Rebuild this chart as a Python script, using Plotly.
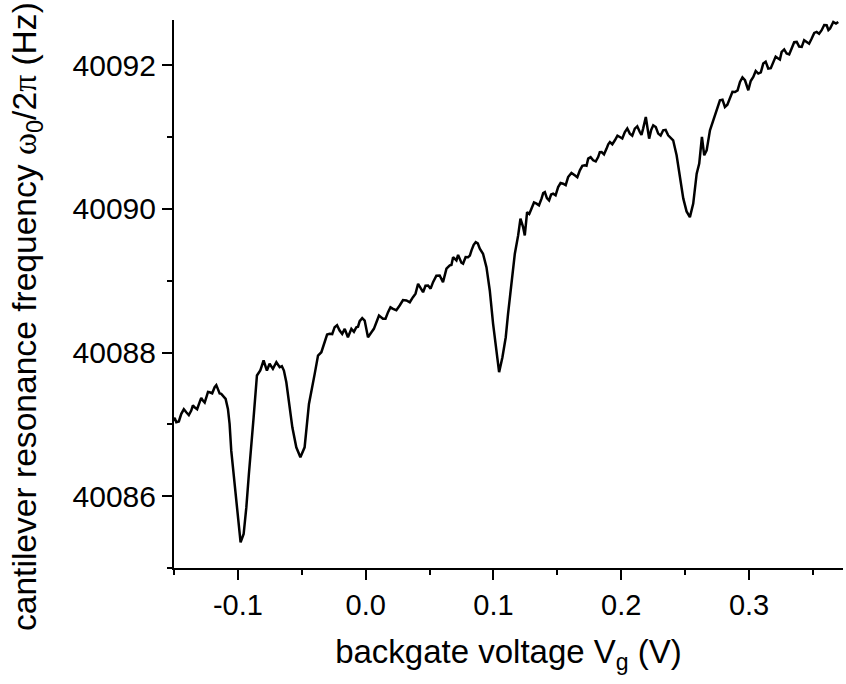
import plotly.graph_objects as go

# Backgate sweep: gate voltage (V) and cantilever resonance frequency (Hz)
voltage = [
    -0.1509, -0.1495, -0.1482, -0.1462, -0.1443, -0.1423, -0.1404, -0.1384, -0.1365, -0.1352,
    -0.1339, -0.1319, -0.1300, -0.1287, -0.1274, -0.1260, -0.1247, -0.1234, -0.1221, -0.1201,
    -0.1182, -0.1169, -0.1157, -0.1143, -0.1130, -0.1096, -0.1078, -0.1065, -0.1052, -0.1031,
    -0.1012, -0.0994, -0.0979, -0.0955, -0.0934, -0.0914, -0.0895, -0.0877, -0.0851, -0.0825,
    -0.0799, -0.0786, -0.0773, -0.0752, -0.0726, -0.0699, -0.0673, -0.0656, -0.0640, -0.0621,
    -0.0601, -0.0574, -0.0543, -0.0511, -0.0478, -0.0444, -0.0399, -0.0373, -0.0347, -0.0321,
    -0.0302, -0.0282, -0.0262, -0.0243, -0.0224, -0.0204, -0.0184, -0.0164, -0.0139, -0.0112,
    -0.0092, -0.0073, -0.0060, -0.0047, -0.0027, -0.0008, 0.0018, 0.0045, 0.0064, 0.0084,
    0.0104, 0.0135, 0.0155, 0.0175, 0.0194, 0.0214, 0.0240, 0.0266, 0.0292, 0.0319,
    0.0345, 0.0370, 0.0390, 0.0410, 0.0449, 0.0468, 0.0488, 0.0508, 0.0527, 0.0553,
    0.0579, 0.0605, 0.0632, 0.0658, 0.0671, 0.0684, 0.0710, 0.0723, 0.0736, 0.0749,
    0.0762, 0.0782, 0.0801, 0.0815, 0.0828, 0.0845, 0.0861, 0.0877, 0.0893, 0.0918,
    0.0945, 0.0971, 0.0997, 0.1023, 0.1044, 0.1070, 0.1096, 0.1114, 0.1141, 0.1167,
    0.1193, 0.1211, 0.1232, 0.1245, 0.1263, 0.1280, 0.1297, 0.1317, 0.1337, 0.1356,
    0.1376, 0.1389, 0.1402, 0.1418, 0.1435, 0.1451, 0.1467, 0.1486, 0.1506, 0.1525,
    0.1545, 0.1565, 0.1584, 0.1610, 0.1636, 0.1656, 0.1676, 0.1695, 0.1715, 0.1728,
    0.1741, 0.1760, 0.1780, 0.1800, 0.1819, 0.1832, 0.1846, 0.1865, 0.1885, 0.1898,
    0.1911, 0.1930, 0.1950, 0.1970, 0.1989, 0.2008, 0.2028, 0.2047, 0.2067, 0.2086,
    0.2106, 0.2125, 0.2145, 0.2158, 0.2171, 0.2192, 0.2218, 0.2234, 0.2250, 0.2270,
    0.2289, 0.2308, 0.2328, 0.2347, 0.2367, 0.2386, 0.2406, 0.2433, 0.2459, 0.2485,
    0.2511, 0.2537, 0.2563, 0.2590, 0.2610, 0.2631, 0.2649, 0.2668, 0.2694, 0.2720,
    0.2746, 0.2772, 0.2792, 0.2811, 0.2830, 0.2850, 0.2870, 0.2890, 0.2910, 0.2929,
    0.2948, 0.2968, 0.2994, 0.3013, 0.3033, 0.3052, 0.3072, 0.3092, 0.3111, 0.3130,
    0.3150, 0.3170, 0.3189, 0.3208, 0.3228, 0.3241, 0.3255, 0.3275, 0.3294, 0.3314,
    0.3333, 0.3353, 0.3373, 0.3392, 0.3412, 0.3431, 0.3451, 0.3470, 0.3490, 0.3510,
    0.3529, 0.3548, 0.3568, 0.3588, 0.3607, 0.3621, 0.3634, 0.3659, 0.3680, 0.3698,
]
frequency = [
    40087.052, 40087.090, 40087.029, 40087.040, 40087.146, 40087.210, 40087.168, 40087.130, 40087.192, 40087.265,
    40087.238, 40087.212, 40087.307, 40087.369, 40087.331, 40087.304, 40087.377, 40087.452, 40087.447, 40087.432,
    40087.517, 40087.545, 40087.494, 40087.430, 40087.425, 40087.355, 40087.215, 40087.006, 40086.634, 40086.262,
    40085.844, 40085.519, 40085.356, 40085.473, 40085.844, 40086.309, 40086.680, 40087.098, 40087.680, 40087.749,
    40087.889, 40087.800, 40087.749, 40087.843, 40087.773, 40087.865, 40087.795, 40087.810, 40087.749, 40087.586,
    40087.331, 40086.959, 40086.680, 40086.541, 40086.680, 40087.285, 40087.703, 40087.958, 40088.004, 40088.144,
    40088.250, 40088.261, 40088.257, 40088.353, 40088.380, 40088.307, 40088.260, 40088.330, 40088.213, 40088.330,
    40088.290, 40088.353, 40088.360, 40088.436, 40088.480, 40088.446, 40088.213, 40088.283, 40088.330, 40088.422,
    40088.516, 40088.470, 40088.470, 40088.562, 40088.630, 40088.609, 40088.590, 40088.655, 40088.730, 40088.725,
    40088.700, 40088.771, 40088.820, 40088.957, 40088.840, 40088.930, 40088.934, 40088.890, 40088.980, 40089.070,
    40089.073, 40088.980, 40089.167, 40089.213, 40089.220, 40089.328, 40089.282, 40089.360, 40089.306, 40089.250,
    40089.236, 40089.330, 40089.328, 40089.350, 40089.422, 40089.500, 40089.537, 40089.520, 40089.445, 40089.376,
    40089.189, 40088.864, 40088.400, 40087.982, 40087.726, 40087.935, 40088.213, 40088.539, 40089.004, 40089.376,
    40089.631, 40089.863, 40089.746, 40089.631, 40089.955, 40089.930, 40090.003, 40090.090, 40090.073, 40090.050,
    40090.142, 40090.220, 40090.234, 40090.150, 40090.119, 40090.200, 40090.212, 40090.190, 40090.304, 40090.360,
    40090.351, 40090.330, 40090.443, 40090.500, 40090.467, 40090.440, 40090.537, 40090.600, 40090.606, 40090.600,
    40090.700, 40090.720, 40090.676, 40090.660, 40090.722, 40090.790, 40090.792, 40090.760, 40090.839, 40090.900,
    40090.931, 40090.900, 40090.955, 40091.020, 40091.001, 40090.980, 40091.070, 40091.120, 40091.048, 40091.020,
    40091.118, 40091.150, 40091.070, 40091.030, 40091.118, 40091.279, 40090.978, 40091.100, 40091.164, 40091.140,
    40091.048, 40091.020, 40091.094, 40091.100, 40091.024, 40090.990, 40090.955, 40090.746, 40090.467, 40090.146,
    40089.965, 40089.886, 40090.073, 40090.491, 40090.630, 40091.001, 40090.746, 40090.815, 40091.094, 40091.233,
    40091.349, 40091.512, 40091.520, 40091.419, 40091.450, 40091.536, 40091.630, 40091.628, 40091.650, 40091.767,
    40091.830, 40091.791, 40091.652, 40091.780, 40091.837, 40091.920, 40091.884, 40091.900, 40092.024, 40092.050,
    40091.954, 40091.960, 40092.046, 40092.120, 40092.093, 40092.080, 40092.185, 40092.220, 40092.163, 40092.150,
    40092.233, 40092.320, 40092.325, 40092.260, 40092.255, 40092.350, 40092.325, 40092.300, 40092.372, 40092.450,
    40092.464, 40092.440, 40092.488, 40092.560, 40092.557, 40092.490, 40092.511, 40092.603, 40092.580, 40092.603,
]

x_ticks = [-0.1, 0.0, 0.1, 0.2, 0.3]
x_tick_text = ["-0.1", "0.0", "0.1", "0.2", "0.3"]
x_minor_ticks = [-0.15, -0.05, 0.05, 0.15, 0.25, 0.35]
y_ticks = [40086, 40088, 40090, 40092]
y_minor_ticks = [40085, 40087, 40089, 40091]

FONT = "Liberation Sans, Arial, sans-serif"
SERIF = "Liberation Serif, Times New Roman, serif"

Y_TITLE = ("cantilever resonance frequency "
           f"<span style='font-family:{SERIF}'>ω</span><sub>0</sub>/2"
           f"<span style='font-family:{SERIF}'>π</span> (Hz)")

fig = go.Figure(
    go.Scatter(
        x=voltage,
        y=frequency,
        mode="lines",
        line=dict(color="black", width=2.5),
        showlegend=False,
        hoverinfo="skip",
    )
)

axis_common = dict(
    showline=True,
    linecolor="black",
    linewidth=2,
    showgrid=False,
    zeroline=False,
    ticks="outside",
    ticklen=10,
    tickwidth=2,
    tickcolor="black",
    mirror=False,
)

minor_common = dict(ticks="outside", ticklen=5, tickwidth=2, tickcolor="black", tickmode="array")

fig.update_xaxes(
    range=[-0.15, 0.3735],
    tickmode="array",
    tickvals=x_ticks,
    ticktext=x_tick_text,
    tickfont=dict(family=FONT, size=29, color="black"),
    minor=dict(tickvals=x_minor_ticks, **minor_common),
    title=dict(
        text="backgate voltage V<sub>g</sub> (V)",
        font=dict(family=FONT, size=33, color="black"),
        standoff=20,
    ),
    **axis_common,
)

fig.update_yaxes(
    range=[40085, 40092.63],
    tickmode="array",
    tickvals=y_ticks,
    tickformat="d",
    tickfont=dict(family=FONT, size=30, color="black"),
    minor=dict(tickvals=y_minor_ticks, **minor_common),
    **axis_common,
)

# Vertical axis title, set slightly below the plot's mid-height
fig.add_annotation(
    text=Y_TITLE,
    textangle=-90,
    xref="paper", yref="paper",
    x=-0.2197, y=0.458,
    xanchor="center", yanchor="middle",
    showarrow=False,
    font=dict(family=FONT, size=33.6, color="black"),
)

fig.update_layout(
    width=846,
    height=684,
    margin=dict(l=174, r=3, t=20, b=116),
    plot_bgcolor="white",
    paper_bgcolor="white",
)

fig.write_html("out.html")
